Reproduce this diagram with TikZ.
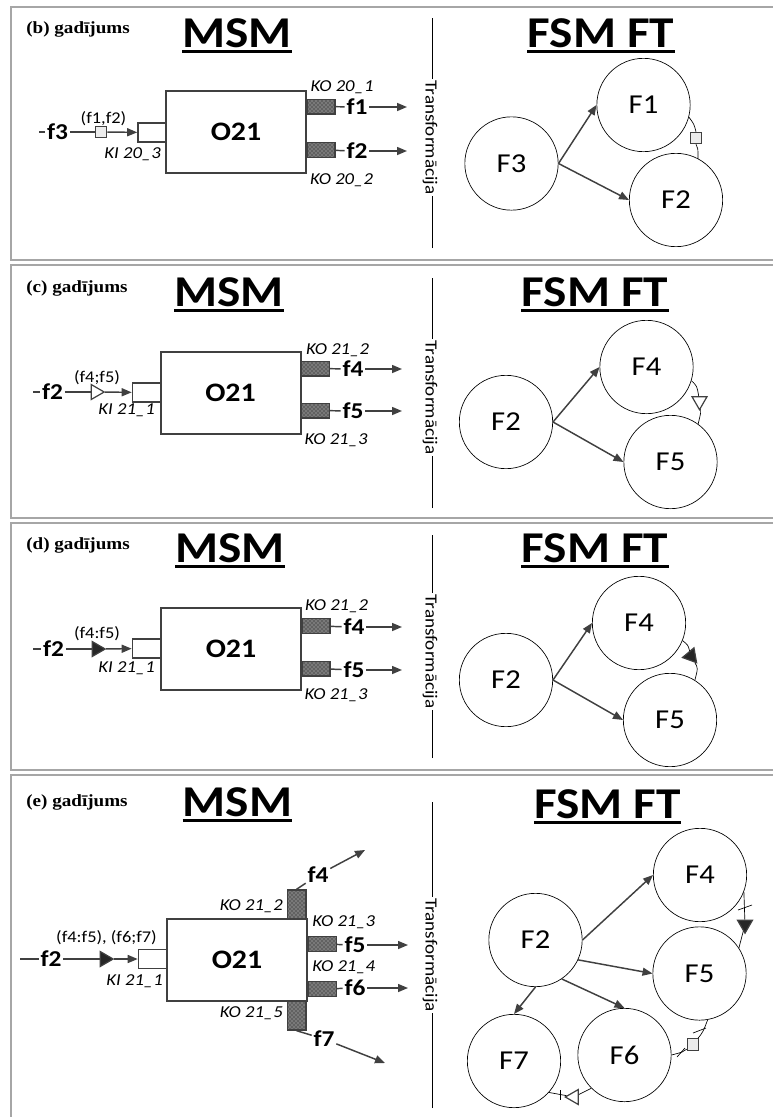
\documentclass[tikz,border=0pt]{standalone}
\usepackage{fontspec}
\setmainfont{Liberation Serif}
\newfontfamily\calfam[FakeStretch=1.12]{Carlito}
\newfontfamily\hdfam[FakeStretch=1.12]{Liberation Serif}
\usetikzlibrary{arrows.meta,shapes.geometric,patterns,calc}
\definecolor{dk}{HTML}{404040}
\tikzset{
 panelframe/.style={draw=gray!70, line width=1.5pt},
 ln/.style={draw=dk, line width=1.1pt},
 arr/.style={draw=dk, line width=1.1pt, -{Triangle[length=7.5pt,width=6pt]}},
 thinln/.style={draw=black, line width=0.5pt},
 hd/.style={font=\hdfam\bfseries\fontsize{12.8}{14}\selectfont, inner sep=0},
 ttl/.style={font=\calfam\bfseries\fontsize{33}{36}\selectfont, inner sep=0},
 ul/.style={draw=black, line width=2.3pt},
 trf/.style={font=\calfam\fontsize{12.8}{14}\selectfont, fill=white, inner sep=1pt, rotate=-90},
 obox/.style={draw=dk, line width=1.5pt, fill=white, minimum width=105pt, minimum height=61.5pt, inner sep=0, font=\calfam\bfseries\fontsize{20}{22}\selectfont},
 inport/.style={draw=dk, line width=1.2pt, fill=white, minimum width=21pt, minimum height=14pt, inner sep=0},
 outport/.style={draw=dk, line width=1pt, preaction={fill=black!62}, pattern=crosshatch dots, pattern color=white!80!black, minimum width=21pt, minimum height=11pt, inner sep=0},
 vport/.style={outport, minimum width=14pt, minimum height=21.75pt},
 flab/.style={font=\calfam\bfseries\fontsize{17}{19}\selectfont, inner sep=1.2pt},
 sm/.style={font=\calfam\fontsize{12.3}{14}\selectfont, inner sep=0},
 it/.style={font=\calfam\itshape\fontsize{12.5}{14}\selectfont, inner sep=0},
 fn/.style={circle, draw=black, line width=0.5pt, minimum size=70pt, inner sep=0, font=\calfam\fontsize{20.5}{22}\selectfont},
 sqm/.style={draw=dk, line width=0.9pt, fill=gray!15, minimum size=8.5pt, inner sep=0},
 trimark/.style={regular polygon, regular polygon sides=3, draw=dk, line width=0.9pt, minimum size=13pt, inner sep=0},
}
\begin{document}
\begin{tikzpicture}[x=0.75pt,y=-0.75pt]
\useasboundingbox (0,0) rectangle (773,1117);
\clip (0,0) rectangle (773,1117);
\fill[white] (0,0) rectangle (773,1117);
% frames
\draw[panelframe] (11,7) rectangle (790,260);
\draw[panelframe] (11,265) rectangle (790,518);
\draw[panelframe] (11,523) rectangle (790,770);
\draw[panelframe] (11,775) rectangle (790,1130);

% ================= (b)
\node[hd, anchor=base west] (bh) at (26,33) {(b) gadījums};
\node[ttl, anchor=base] (bmsm) at (237,47) {MSM};
\draw[ul] ($(bmsm.base west)+(0,4.5)$) -- ($(bmsm.base east)+(0,4.5)$);
\node[ttl, anchor=base] (bfsm) at (601,47) {FSM FT};
\draw[ul] ($(bfsm.base west)+(0,4.5)$) -- ($(bfsm.base east)+(0,4.5)$);
\node[trf] (btr) at (430,137.5) {Transformācija};
\coordinate (btt) at (432,18); \coordinate (btb) at (432,248);
\draw[thinln] (btt) -- (btt |- btr.west);
\draw[thinln] (btb) -- (btb |- btr.east);
\node[obox] (bbox) at (236,132) {O21};
\node[inport] (bki) at (152,132.5) {};
\coordinate (bst) at (39,132);
\node[flab] (bf3) at (57.5,132) {f3};
\node[sqm] (bsq) at (101,132) {};
\draw[ln] (bst) -- (bf3);
\draw[ln] (bf3) -- (bsq);
\draw[arr] (bsq) -- (bki);
\node[sm] (bfl) at (103.5,119) {(f1,f2)};
\node[it, anchor=east] (bkil) at (161,154) {KI 20\_3};
\node[outport] (bko1) at (321,106.5) {};
\node[outport] (bko2) at (321,150) {};
\node[flab] (bf1) at (357,107) {f1};
\node[flab] (bf2) at (357,151) {f2};
\coordinate (bo1) at (407,107); \coordinate (bo2) at (407,151);
\draw[ln] (bko1) -- (bf1); \draw[arr] (bf1) -- (bo1);
\draw[ln] (bko2) -- (bf2); \draw[arr] (bf2) -- (bo2);
\node[it] (bkol1) at (342,87.5) {KO 20\_1};
\node[it] (bkol2) at (341.5,180) {KO 20\_2};
\node[fn] (bF3) at (511.5,163.5) {F3};
\node[fn] (bF1) at (643.5,105) {F1};
\node[fn] (bF2) at (676,200) {F2};
\draw[arr] (bF3.east) -- (bF1.west);
\draw[arr] (bF3.east) -- (bF2.west);
\node[sqm] (bsq2) at (696,138) {};
\draw[thinln] (bF1.-15) .. controls (694,124) .. (bsq2.north);
\draw[thinln] (bsq2.south) .. controls (698,148) .. (bF2.62);

% ================= (c)
\node[hd, anchor=base west] (ch) at (26,292) {(c) gadījums};
\node[ttl, anchor=base] (cmsm) at (229,306) {MSM};
\draw[ul] ($(cmsm.base west)+(0,4.5)$) -- ($(cmsm.base east)+(0,4.5)$);
\node[ttl, anchor=base] (cfsm) at (595,306) {FSM FT};
\draw[ul] ($(cfsm.base west)+(0,4.5)$) -- ($(cfsm.base east)+(0,4.5)$);
\node[trf] (ctr) at (430,397.5) {Transformācija};
\coordinate (ctt) at (432,278); \coordinate (ctb) at (432,508);
\draw[thinln] (ctt) -- (ctt |- ctr.west);
\draw[thinln] (ctb) -- (ctb |- ctr.east);
\node[obox] (cbox) at (230.5,392.5) {O21};
\node[inport] (cki) at (146.5,392.5) {};
\coordinate (cst) at (33,392);
\node[flab] (cf2) at (52.5,392) {f2};
\node[trimark, fill=white, shape border rotate=-90] (ctri) at (95.5,392) {};
\draw[ln] (cst) -- (cf2);
\draw[ln] (cf2) -- (ctri);
\draw[arr] (ctri) -- (cki);
\node[sm] (cfl) at (97,377.5) {(f4;f5)};
\node[it, anchor=east] (ckil) at (155,410) {KI 21\_1};
\node[outport] (cko1) at (315.5,368.5) {};
\node[outport] (cko2) at (315.5,410.5) {};
\node[flab] (cf4) at (353,369) {f4};
\node[flab] (cf5) at (353,411) {f5};
\coordinate (co1) at (402,369); \coordinate (co2) at (402,411);
\draw[ln] (cko1) -- (cf4); \draw[arr] (cf4) -- (co1);
\draw[ln] (cko2) -- (cf5); \draw[arr] (cf5) -- (co2);
\node[it] (ckol1) at (337.5,350) {KO 21\_2};
\node[it] (ckol2) at (336,440) {KO 21\_3};
\node[fn] (cF2) at (506,422) {F2};
\node[fn] (cF4) at (646.5,367) {F4};
\node[fn] (cF5) at (670.5,462) {F5};
\draw[arr] (cF2.east) -- (cF4.west);
\draw[arr] (cF2.east) -- (cF5.west);
\node[trimark, fill=white, shape border rotate=180] (ctri2) at (699.5,401) {};
\draw[thinln] (cF4.-17) .. controls (697,386) .. (ctri2);
\draw[thinln] (ctri2) .. controls (701,412) .. (cF5.54);

% ================= (d)
\node[hd, anchor=base west] (dh) at (26,549) {(d) gadījums};
\node[ttl, anchor=base] (dmsm) at (230,562) {MSM};
\draw[ul] ($(dmsm.base west)+(0,4.5)$) -- ($(dmsm.base east)+(0,4.5)$);
\node[ttl, anchor=base] (dfsm) at (595,562) {FSM FT};
\draw[ul] ($(dfsm.base west)+(0,4.5)$) -- ($(dfsm.base east)+(0,4.5)$);
\node[trf] (dtr) at (430,651.5) {Transformācija};
\coordinate (dtt) at (432,535); \coordinate (dtb) at (432,758);
\draw[thinln] (dtt) -- (dtt |- dtr.west);
\draw[thinln] (dtb) -- (dtb |- dtr.east);
\node[obox] (dbox) at (231,649) {O21};
\node[inport] (dki) at (146.5,648.5) {};
\coordinate (dst) at (33,649);
\node[flab] (df2) at (53.5,649) {f2};
\node[trimark, fill=black!85, shape border rotate=-90] (dtri) at (96.5,649) {};
\draw[ln] (dst) -- (df2);
\draw[ln] (df2) -- (dtri);
\draw[arr] (dtri) -- (dki);
\node[sm] (dfl) at (97,633.5) {(f4:f5)};
\node[it, anchor=east] (dkil) at (155,668.5) {KI 21\_1};
\node[outport] (dko1) at (316,626) {};
\node[outport] (dko2) at (316,668.5) {};
\node[flab] (df4) at (354,627) {f4};
\node[flab] (df5) at (354,670) {f5};
\coordinate (do1) at (402,627); \coordinate (do2) at (402,670);
\draw[ln] (dko1) -- (df4); \draw[arr] (df4) -- (do1);
\draw[ln] (dko2) -- (df5); \draw[arr] (df5) -- (do2);
\node[it] (dkol1) at (336.5,606) {KO 21\_2};
\node[it] (dkol2) at (336,695) {KO 21\_3};
\node[fn] (dF2) at (506,680) {F2};
\node[fn] (dF4) at (639,623) {F4};
\node[fn] (dF5) at (670,720) {F5};
\draw[arr] (dF2.east) -- (dF4.west);
\draw[arr] (dF2.east) -- (dF5.west);
\node[trimark, fill=black!85, shape border rotate=100] (dtri2) at (691,656) {};
\draw[thinln] (dF4.-22) .. controls (688,645) .. (dtri2);
\draw[thinln] (dtri2) .. controls (698,668) .. (dF5.58);

% ================= (e)
\node[hd, anchor=base west] (eh) at (26,806) {(e) gadījums};
\node[ttl, anchor=base] (emsm) at (237.5,816) {MSM};
\draw[ul] ($(emsm.base west)+(0,4.5)$) -- ($(emsm.base east)+(0,4.5)$);
\node[ttl, anchor=base] (efsm) at (607.5,818) {FSM FT};
\draw[ul] ($(efsm.base west)+(0,4.5)$) -- ($(efsm.base east)+(0,4.5)$);
\node[trf] (etr) at (430,955) {Transformācija};
\coordinate (ett) at (432,802); \coordinate (etb) at (432,1108);
\draw[thinln] (ett) -- (ett |- etr.west);
\draw[thinln] (etb) -- (etb |- etr.east);
\node[obox] (ebox) at (237,960) {O21};
\node[inport] (eki) at (152.5,959) {};
\coordinate (est) at (20,959);
\node[flab] (ef2) at (51,959) {f2};
\node[trimark, fill=black!85, shape border rotate=-90] (etri) at (104.5,959) {};
\draw[ln] (est) -- (ef2);
\draw[ln] (ef2) -- (etri);
\draw[arr] (etri) -- (eki);
\node[sm] (efl) at (106.5,937.5) {(f4:f5), (f6;f7)};
\node[it, anchor=east] (ekil) at (163,981) {KI 21\_1};
\node[vport] (ek2) at (296.5,904.5) {};
\node[vport] (ek5) at (296.5,1015.5) {};
\node[outport] (ek3) at (322.5,944) {};
\node[outport] (ek4) at (322.5,989) {};
\node[it, anchor=east] (ekl2) at (283,906.5) {KO 21\_2};
\node[it, anchor=east] (ekl5) at (283,1013.5) {KO 21\_5};
\node[it, anchor=west] (ekl3) at (312,922.5) {KO 21\_3};
\node[it, anchor=west] (ekl4) at (312,967.5) {KO 21\_4};
\node[flab] (ef4) at (318,875) {f4};
\node[flab] (ef5) at (355,945) {f5};
\node[flab] (ef6) at (355,988) {f6};
\node[flab] (ef7) at (324,1039) {f7};
\coordinate (eo4) at (365,850); \coordinate (eo5) at (408,945);
\coordinate (eo6) at (408,988); \coordinate (eo7) at (385,1063);
\draw[ln] (ek2.north) -- (ef4); \draw[arr] (ef4) -- (eo4);
\draw[ln] (ek3) -- (ef5); \draw[arr] (ef5) -- (eo5);
\draw[ln] (ek4) -- (ef6); \draw[arr] (ef6) -- (eo6);
\draw[ln] (ek5.south) -- (ef7); \draw[arr] (ef7) -- (eo7);
\node[fn] (eF4) at (700,875) {F4};
\node[fn] (eF2) at (535.5,940) {F2};
\node[fn] (eF5) at (699.5,973.5) {F5};
\node[fn] (eF6) at (624.5,1055) {F6};
\node[fn] (eF7) at (514,1061) {F7};
\draw[arr] (eF2.east) -- (eF4.west);
\draw[arr] (eF2.-25) -- (eF5.west);
\draw[arr] (eF2.-56) -- (eF6.north);
\draw[arr] (eF2.south) -- (eF7.north);
\node[trimark, fill=black!85, shape border rotate=180] (etri2) at (745,924.5) {};
\draw[thinln] (eF4.-21) -- (etri2);
\draw[thinln] (etri2) -- (eF5.33);
\draw[thinln] (738,910) -- (752,905);
\node[sqm] (esq) at (693,1044.5) {};
\draw[thinln] (eF5.-80) .. controls (703,1032) .. (esq);
\draw[thinln] (esq) .. controls (683,1052) .. (eF6.east);
\draw[thinln] (693,1033) -- (706,1028);
\draw[thinln] (677,1057) -- (685,1048);
\node[trimark, fill=white, shape border rotate=90] (etri3) at (574,1097) {};
\draw[thinln] (eF6.225) -- (etri3);
\draw[thinln] (etri3) -- (eF7.-42);
\draw[thinln] (560,1090) -- (560,1100);
\end{tikzpicture}
\end{document}
